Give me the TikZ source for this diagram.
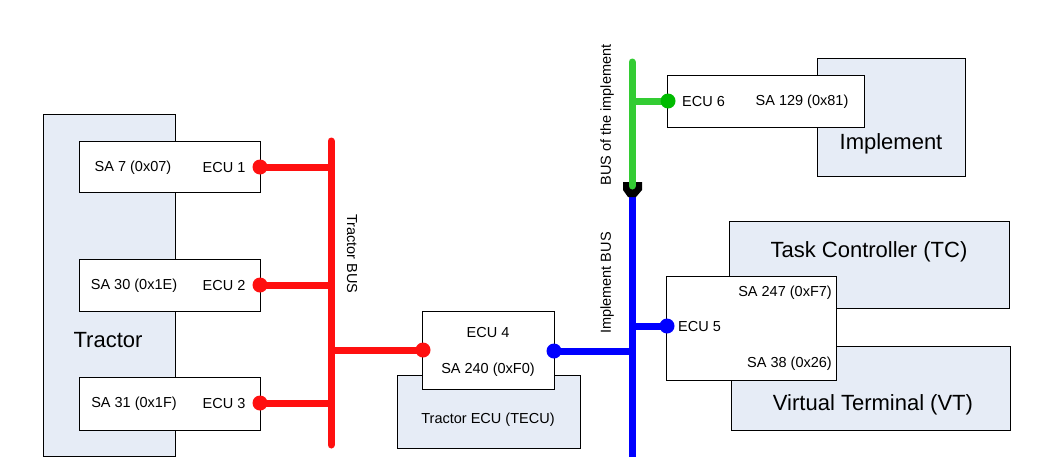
\documentclass[tikz,border=0pt]{standalone}
\usepackage{fontspec}
\setmainfont{Liberation Sans}
\usetikzlibrary{backgrounds}
\definecolor{boxfill}{HTML}{E6ECF6}
\definecolor{busred}{HTML}{FF1010}
\definecolor{busblue}{HTML}{0000FF}
\definecolor{busgreen}{HTML}{33CC33}
\definecolor{dotgreen}{HTML}{00BB00}
\tikzset{
  grp/.style={draw=black, line width=0.9pt, fill=boxfill, anchor=north west, inner sep=0pt},
  ecu/.style={draw=black, line width=0.9pt, fill=white, anchor=north west, inner sep=0pt},
  sm/.style={font=\fontsize{14.5}{17}\selectfont, inner sep=0pt},
  lg/.style={font=\fontsize{22}{26}\selectfont, inner sep=0pt},
  dot/.style={circle, inner sep=0pt, minimum size=15pt, fill=#1},
  bus/.style={line width=7pt, draw=#1},
}
\begin{document}
\begin{tikzpicture}[x=1pt,y=-1pt]
\useasboundingbox (0,0) rectangle (1055,469);
% group boxes
\node[grp, minimum width=132pt, minimum height=342pt] (tractor) at (43,114) {};
\node[lg] (tractorlbl) at (108,340) {Tractor};
\node[grp, minimum width=183pt, minimum height=73pt] (tecu) at (397,375) {};
\node[sm] (tecul) at (488,420) {Tractor ECU (TECU)};
\node[grp, minimum width=148pt, minimum height=118pt] (impl) at (817,58) {};
\node[lg] (impll) at (891,144) {Implement};
\node[grp, minimum width=280pt, minimum height=87pt] (tc) at (729,221) {};
\node[lg] (tcl) at (869,252) {Task Controller (TC)};
\node[grp, minimum width=279pt, minimum height=84pt] (vt) at (731,346) {};
\node[lg] (vtl) at (873,405) {Virtual Terminal (VT)};
% ECU boxes
\node[ecu, minimum width=181pt, minimum height=51pt] (e1) at (79,141) {};
\node[ecu, minimum width=181pt, minimum height=52pt] (e2) at (79,259) {};
\node[ecu, minimum width=181pt, minimum height=53pt] (e3) at (79,377) {};
\node[ecu, minimum width=132pt, minimum height=78pt] (e4) at (422,311) {};
\node[ecu, minimum width=170pt, minimum height=104pt] (e5) at (666,276) {};
\node[ecu, minimum width=197pt, minimum height=52pt] (e6) at (667,75) {};
% ECU texts
\node[sm] (e1sa) at (133,168) {SA 7 (0x07)};
\node[sm] (e1n) at (224,168) {ECU 1};
\node[sm] (e2sa) at (134,286) {SA 30 (0x1E)};
\node[sm] (e2n) at (224,286) {ECU 2};
\node[sm] (e3sa) at (134,404) {SA 31 (0x1F)};
\node[sm] (e3n) at (224,404) {ECU 3};
\node[sm] (e4n) at (488,333) {ECU 4};
\node[sm] (e4sa) at (488,370) {SA 240 (0xF0)};
\node[sm, anchor=west] (e5n) at (678,327) {ECU 5};
\node[sm, anchor=east] (e5sa1) at (832,293) {SA 247 (0xF7)};
\node[sm, anchor=east] (e5sa2) at (832,364) {SA 38 (0x26)};
\node[sm, anchor=west] (e6n) at (682,102) {ECU 6};
\node[sm] (e6sa) at (802,102) {SA 129 (0x81)};
% dots
\node[dot=busred] (d1) at (260,167) {};
\node[dot=busred] (d2) at (260,285) {};
\node[dot=busred] (d3) at (260,403) {};
\node[dot=busred] (d4r) at (423,350) {};
\node[dot=busblue] (d4b) at (554,351) {};
\node[dot=busblue] (d5) at (667,326) {};
\node[dot=dotgreen] (d6) at (668,101) {};
% bus coordinates
\coordinate (tbTop) at (331,141);
\coordinate (tbBot) at (331,445);
\coordinate (ibTop) at (632,190);
\coordinate (ibBot) at (632,457);
\coordinate (gbTop) at (632,62);
\coordinate (gbBot) at (632,186);
\begin{pgfonlayer}{background}
\draw[bus=busred, line cap=round] (tbTop) -- (tbBot);
\draw[bus=busred] (d1.center) -- (d1 -| tbTop);
\draw[bus=busred] (d2.center) -- (d2 -| tbTop);
\draw[bus=busred] (d3.center) -- (d3 -| tbTop);
\draw[bus=busred] (d4r.center) -- (d4r -| tbTop);
\draw[bus=busblue] (ibTop) -- (ibBot);
\draw[bus=busblue] (d4b.center) -- (d4b -| ibTop);
\draw[bus=busblue] (d5.center) -- (d5 -| ibTop);
\draw[bus=busgreen] (d6.center) -- (d6 -| gbTop);
\end{pgfonlayer}
\draw[bus=busgreen, line cap=round] (gbTop) -- (gbBot);
% connector between buses
\fill[black] (623,182) -- (642,182) -- (642,190) -- (636,197) -- (628,197) -- (623,190) -- cycle;
\draw[bus=busgreen, line cap=round] (632,176) -- (gbBot);
% bus labels
\node[sm, rotate=-90] (tbl) at (352,254) {Tractor BUS};
\node[sm, rotate=90] (gbl) at (607,115) {BUS of the implement};
\node[sm, rotate=90] (ibl) at (607,283) {Implement BUS};
\end{tikzpicture}
\end{document}
